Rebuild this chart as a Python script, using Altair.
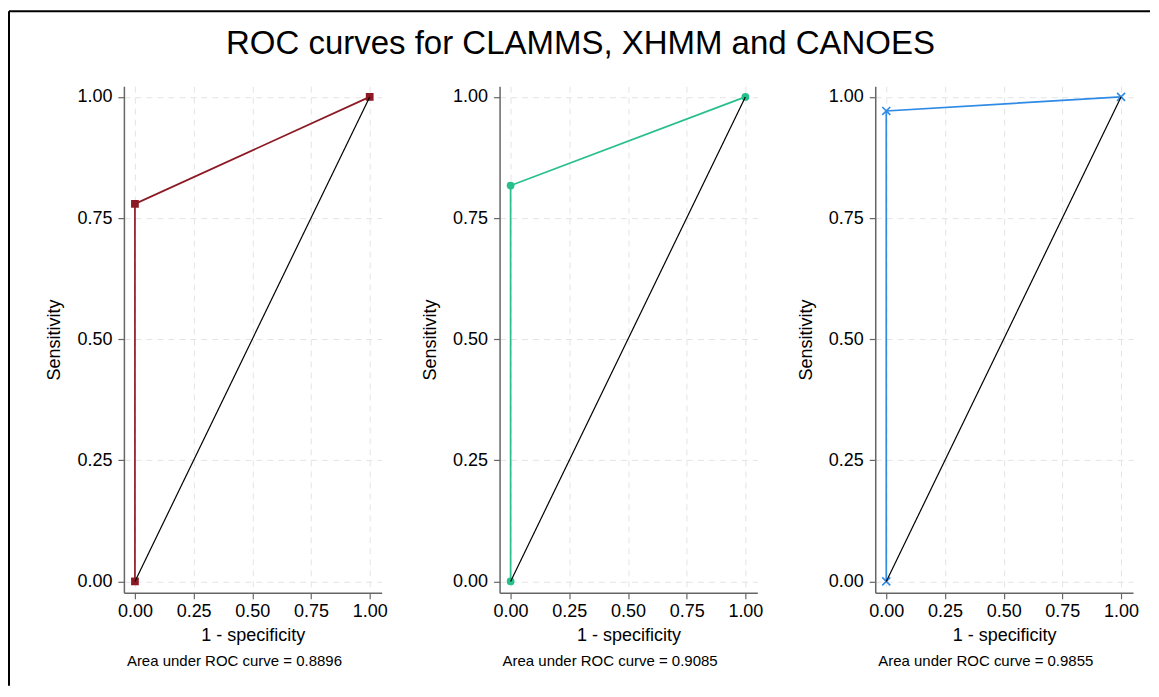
import altair as alt
import pandas as pd

# ---- data ----
fpr = [0.0, 0.0, 1.0]
clamms_sens = [0.0, 0.7792, 1.0]
xhmm_sens = [0.0, 0.817, 1.0]
canoes_sens = [0.0, 0.971, 1.0]
ref_fpr = [0.0, 1.0]
ref_sens = [0.0, 1.0]
auc_values = ["0.8896", "0.9085", "0.9855"]
tick_values = [0.0, 0.25, 0.5, 0.75, 1.0]
main_title = ["ROC curves for CLAMMS, XHMM and CANOES"]

colors = ["#8c1a24", "#27bf8b", "#2f8ae6"]
CROSS = "M-1,-1L1,1M-1,1L1,-1"
shapes = ["square", "circle", CROSS]

FONT = "Liberation Sans"
W, H = 258, 507


def panel(sens, color, shape, auc_text, border=False):
    df = pd.DataFrame({"fpr": fpr, "sens": sens})
    ref = pd.DataFrame({"fpr": ref_fpr, "sens": ref_sens})
    xs = alt.Scale(domain=[-0.047, 1.051], nice=False, zero=False)
    ys = alt.Scale(domain=[-0.0235, 1.022], nice=False, zero=False)
    xa = alt.Axis(values=tick_values, format=".2f", title="1 - specificity",
                  titlePadding=6, labelPadding=4)
    ya = alt.Axis(values=tick_values, format=".2f", title="Sensitivity",
                  titlePadding=13, labelPadding=6)
    base = alt.Chart(df).encode(
        x=alt.X("fpr:Q", scale=xs, axis=xa),
        y=alt.Y("sens:Q", scale=ys, axis=ya),
    )
    line = base.mark_line(color=color, strokeWidth=1.7)
    if shape == CROSS:
        pts = base.mark_point(shape=shape, filled=False, color=color, size=64,
                              strokeWidth=1.6, opacity=1)
    else:
        pts = base.mark_point(shape=shape, filled=True, color=color, size=60,
                              opacity=1)
    diag = alt.Chart(ref).mark_line(color="black", strokeWidth=1.2).encode(
        x=alt.X("fpr:Q", scale=xs), y=alt.Y("sens:Q", scale=ys)
    )
    note = alt.Chart(pd.DataFrame({"t": [f"Area under ROC curve = {auc_text}"]})).mark_text(
        align="left", baseline="middle", fontSize=15, font=FONT, color="black"
    ).encode(x=alt.value(3), y=alt.value(575), text="t:N")
    layers = [line, pts, diag, note]
    if border:
        bdf = pd.DataFrame({"k": [0]})
        vrule = alt.Chart(bdf).mark_rule(color="black", strokeWidth=2).encode(
            x=alt.value(-115), y=alt.value(-75), y2=alt.value(600))
        hrule = alt.Chart(bdf).mark_rule(color="black", strokeWidth=2).encode(
            x=alt.value(-115), x2=alt.value(1027), y=alt.value(-75))
        title = alt.Chart(pd.DataFrame({"t": main_title})).mark_text(
            align="center", baseline="alphabetic", fontSize=33, font=FONT,
            color="black"
        ).encode(x=alt.value(457), y=alt.value(-32), text="t:N")
        layers += [vrule, hrule, title]
    return alt.layer(*layers).properties(width=W, height=H)


p1 = panel(clamms_sens, colors[0], shapes[0], auc_values[0], border=True)
p2 = panel(xhmm_sens, colors[1], shapes[1], auc_values[1])
p3 = panel(canoes_sens, colors[2], shapes[2], auc_values[2])

chart = alt.hconcat(p1, p2, p3, spacing=118, bounds="flush").configure(
    font=FONT,
    padding={"left": 0, "top": 2, "right": 0, "bottom": 0},
    background="white",
).configure_view(stroke=None).configure_axis(
    labelFont=FONT, titleFont=FONT, labelFontSize=18, titleFontSize=18,
    titleFontWeight="normal", labelColor="black", titleColor="black",
    domainColor="#666666", domainWidth=1.5, tickColor="#666666", tickWidth=1.2,
    tickSize=6, gridColor="#e4e4e4", gridDash=[6, 5], gridWidth=1,
)

chart.save("out.html", embed_options={"renderer": "svg", "actions": False})
